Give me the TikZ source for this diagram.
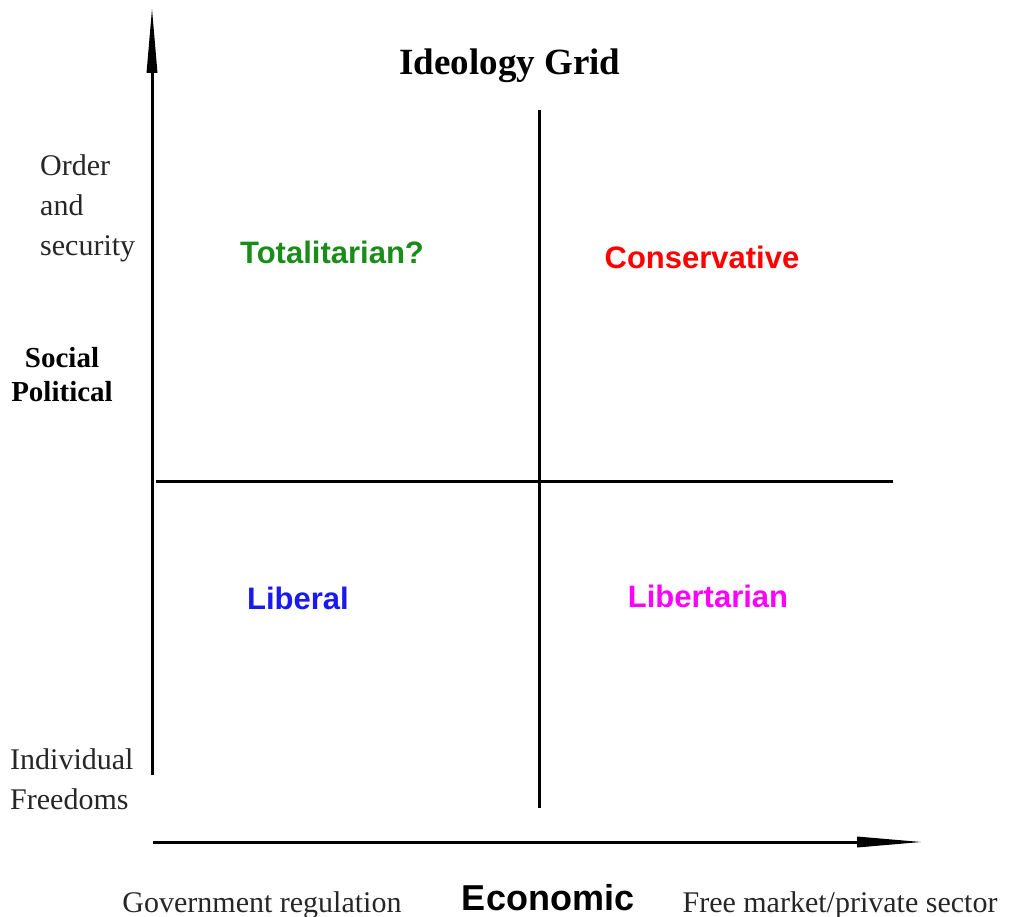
\documentclass[tikz,border=0pt]{standalone}
\usepackage{fontspec}
\setmainfont{Liberation Serif}
\newfontfamily\arialfont{Liberation Sans}
\usetikzlibrary{arrows.meta}
\definecolor{totgreen}{RGB}{25,140,25}
\definecolor{consred}{RGB}{255,0,0}
\definecolor{libblue}{RGB}{25,25,240}
\definecolor{libtmag}{RGB}{255,0,255}
\tikzstyle{quad}=[font=\arialfont\bfseries\fontsize{31}{31}\selectfont,
                  inner sep=0pt,
                  anchor=base]
\tikzstyle{side}=[font=\fontsize{30}{40}\selectfont,
                  align=left,
                  inner sep=0pt,
                  anchor=north west,
                  text=black!85]
\tikzstyle{axis}=[line width=3pt]

\begin{document}
\begin{tikzpicture}[x=1pt,y=-1pt,>={Triangle[length=64pt,width=11pt,line width=0pt]}]
\useasboundingbox (0,0) rectangle (1011,917);

% title
\node[inner sep=0pt,anchor=base,font=\bfseries\fontsize{37}{37}\selectfont] (title) at (510,75) {Ideology Grid};

% axis ends
\coordinate (ybot) at (152,775);
\coordinate (ytop) at (152,9);
\coordinate (xleft) at (153,842);
\coordinate (xright) at (921,842);
\coordinate (vtop) at (539,110);
\coordinate (vbot) at (539,808);
\coordinate (hleft) at (156,481);
\coordinate (hright) at (893,481);

% axes and dividers
\draw[axis,->] (ybot) -- (ytop);
\draw[axis,->] (xleft) -- (xright);
\draw[axis] (vtop) -- (vbot);
\draw[axis] (hleft) -- (hright);

% side labels
\node[side] (order) at (40,154) {Order\\and\\security};
\node[side,text=black,align=center,anchor=north,font=\bfseries\fontsize{29}{34}\selectfont] (social) at (62,347) {Social\\Political};
\node[side] (indiv) at (10,748) {Individual\\Freedoms};

% quadrants
\node[quad,text=totgreen] (tot) at (332,263) {Totalitarian?};
\node[quad,text=consred] (cons) at (702,269) {Conservative};
\node[quad,text=libblue] (lib) at (298,609) {Liberal};
\node[quad,text=libtmag] (libt) at (708,607) {Libertarian};

% bottom labels
\node[side,anchor=base] (gov) at (262,912) {Government regulation};
\node[quad,anchor=base,font=\arialfont\bfseries\fontsize{36}{36}\selectfont] (econ) at (548,910) {Economic};
\node[side,anchor=base] (free) at (840,912) {Free market/private sector};
\end{tikzpicture}
\end{document}
